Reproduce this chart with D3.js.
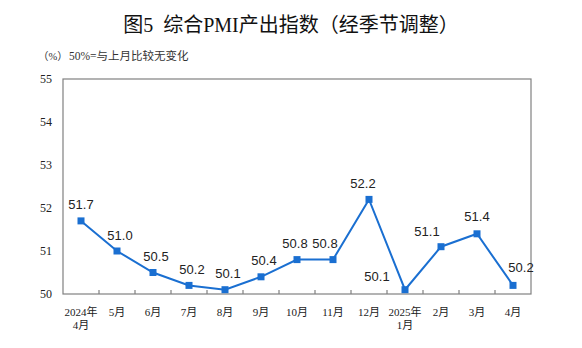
<!DOCTYPE html>
<html>
<head>
<meta charset="utf-8">
<script src="https://cdn.jsdelivr.net/npm/d3@7"></script>
<style>
  html, body { margin: 0; padding: 0; background: #fff; }
  svg { display: block; }
</style>
</head>
<body>
<svg id="chart" width="582" height="348"></svg>
<script>
const categories = ["2024年\n4月", "5月", "6月", "7月", "8月", "9月", "10月", "11月", "12月", "2025年\n1月", "2月", "3月", "4月"];
const values = [51.7, 51.0, 50.5, 50.2, 50.1, 50.4, 50.8, 50.8, 52.2, 50.1, 51.1, 51.4, 50.2];
const yTicks = [50, 51, 52, 53, 54, 55];
const labelDx = [0, 3, 3, 3, 3, 3, -2, -8, -6, -28, -14, 0, 8];
const labelDy = [-16, -16, -16, -16, -16, -16, -16, -16, -16, -13, -15, -17, -18];

const title = "图5  综合PMI产出指数（经季节调整）";
const unitText = "（%）";
const noteText = "50%=与上月比较无变化";

const svg = d3.select("#chart");
const m = { left: 63, right: 531, top: 79, bottom: 294 };
const serif = "'Liberation Serif', 'Noto Sans CJK SC', serif";
const sans = "'Liberation Sans', Arial, sans-serif";
const lineColor = "#1a6fd1";

const x = d3.scaleBand().domain(categories).range([m.left, m.right]).paddingInner(0).paddingOuter(0);
const y = d3.scaleLinear().domain([50, 55]).range([m.bottom, m.top]);

// Title
svg.append("text").attr("x", 291).attr("y", 32).attr("text-anchor", "middle")
  .attr("font-family", serif).attr("font-size", 20).attr("fill", "#111")
  .style("white-space", "pre").text(title);

svg.append("text").attr("x", 38).attr("y", 60).attr("font-family", serif)
  .attr("font-size", 10.5).attr("fill", "#333").text(unitText);
svg.append("text").attr("x", 69).attr("y", 60).attr("font-family", serif)
  .attr("font-size", 11.5).attr("fill", "#333").text(noteText);

// Frame
svg.append("rect").attr("x", m.left).attr("y", m.top)
  .attr("width", m.right - m.left).attr("height", m.bottom - m.top)
  .attr("fill", "none").attr("stroke", "#808080").attr("stroke-width", 1.2);

// Y axis labels
const yAxis = d3.axisLeft(y).tickValues(yTicks).tickSize(0).tickPadding(11).tickFormat(d3.format("d"));
const gy = svg.append("g").attr("transform", `translate(${m.left},0)`).call(yAxis);
gy.select(".domain").remove();
gy.selectAll("text").attr("font-family", serif).attr("font-size", 12).attr("fill", "#222");

// X axis ticks (inward, at band boundaries)
const boundaries = categories.slice(1).map(c => x(c));
svg.append("g").selectAll("line").data(boundaries).join("line")
  .attr("x1", d => d).attr("x2", d => d)
  .attr("y1", m.bottom).attr("y2", m.bottom - 4)
  .attr("stroke", "#808080").attr("stroke-width", 1.2);

// X labels
const gx = svg.append("g");
categories.forEach(c => {
  const lines = c.split("\n");
  const t = gx.append("text").attr("text-anchor", "middle")
    .attr("font-family", serif).attr("font-size", 11).attr("fill", "#222");
  lines.forEach((ln, i) => {
    t.append("tspan").attr("x", x(c) + x.bandwidth() / 2).attr("y", 316 + i * 13).text(ln);
  });
});

// Line
const cx = (d, i) => x(categories[i]) + x.bandwidth() / 2;
const line = d3.line().x((d, i) => cx(d, i)).y(d => y(d));
svg.append("path").datum(values).attr("d", line)
  .attr("fill", "none").attr("stroke", lineColor).attr("stroke-width", 2);

// Markers
svg.append("g").selectAll("rect").data(values).join("rect")
  .attr("x", (d, i) => cx(d, i) - 3.5).attr("y", d => y(d) - 3.5)
  .attr("width", 7).attr("height", 7).attr("fill", lineColor);

// Value labels
svg.append("g").selectAll("text").data(values).join("text")
  .attr("x", (d, i) => cx(d, i) + labelDx[i])
  .attr("y", (d, i) => y(d) + labelDy[i])
  .attr("dy", "0.35em").attr("text-anchor", "middle")
  .attr("font-family", sans).attr("font-size", 13).attr("fill", "#222")
  .text(d => d3.format(".1f")(d));
</script>
</body>
</html>
